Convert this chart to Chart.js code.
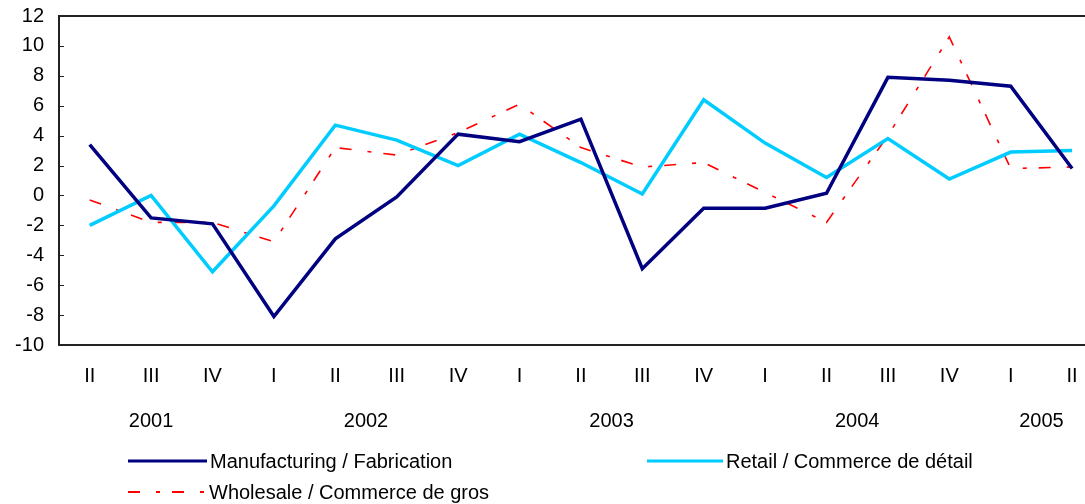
<!DOCTYPE html>
<html>
<head>
<meta charset="utf-8">
<script src="https://cdn.jsdelivr.net/npm/chart.js@4"></script>
<style>
  body { margin: 0; background: #fff; }
  #wrap { position: relative; width: 1085px; height: 504px; overflow: hidden; font-family: "Liberation Sans", Arial, sans-serif; }
  #myChart { position: absolute; left: 0; top: 0; }
  .legendItem { position: absolute; height: 24px; line-height: 24px; font-size: 20px; color: #000; white-space: nowrap; }
  .legendItem svg { position: absolute; top: 0; }
  .legendItem span { position: absolute; top: 0; }
</style>
</head>
<body>
<div id="wrap">
  <canvas id="myChart" width="1085" height="504"></canvas>
  <div id="legend"></div>
</div>
<script>
let quarters = ["II", "III", "IV", "I", "II", "III", "IV", "I", "II", "III", "IV", "I", "II", "III", "IV", "I", "II"];
let quarterYears = ["2001", "2001", "2001", "2002", "2002", "2002", "2002", "2003", "2003", "2003", "2003", "2004", "2004", "2004", "2004", "2005", "2005"];
let manufacturing = [3.4, -1.5, -1.9, -8.1, -2.9, -0.1, 4.1, 3.6, 5.1, -4.9, -0.85, -0.85, 0.15, 7.9, 7.7, 7.3, 1.8];
let retail = [-2.0, 0.0, -5.1, -0.7, 4.7, 3.7, 2.0, 4.1, 2.2, 0.1, 6.4, 3.5, 1.2, 3.8, 1.1, 2.9, 3.0];
let wholesale = [-0.3, -1.8, -1.8, -3.1, 3.2, 2.7, 4.2, 6.1, 3.2, 1.9, 2.2, 0.2, -1.8, 4.0, 10.6, 1.8, 1.9];
let yTicks = [12, 10, 8, 6, 4, 2, 0, -2, -4, -6, -8, -10];

let seriesNames = ["Manufacturing / Fabrication", "Retail / Commerce de détail", "Wholesale / Commerce de gros"];
let seriesColors = ["#000080", "#00ccff", "#ff0000"];
let fontFamily = "'Liberation Sans', Arial, sans-serif";

function toPoints(values) {
  return values.map((v, i) => ({ x: i, y: v }));
}

function yearTicks() {
  let years = [];
  for (let i = 0; i < quarterYears.length; i++) {
    let year = quarterYears[i];
    let found = years.find((y) => y.year === year);
    if (found) {
      found.sum += i;
      found.count++;
    } else {
      years.push({ year: year, sum: i, count: 1 });
    }
  }
  return years.map((y) => ({ value: y.sum / y.count, label: y.year }));
}

function noPadding(scale) {
  scale.paddingLeft = 0;
  scale.paddingRight = 0;
  scale.paddingTop = 0;
  scale.paddingBottom = 0;
}

// frame round the plot and the small inner ticks on the y axis
const framePlugin = {
  id: "frame",
  afterDatasetsDraw(chart) {
    let ctx = chart.ctx;
    let area = chart.chartArea;
    let y = chart.scales.y;
    ctx.save();
    ctx.strokeStyle = "#222";
    ctx.lineWidth = 2;
    ctx.strokeRect(area.left, area.top, area.right - area.left + 5, area.bottom - area.top);
    ctx.beginPath();
    for (let t of yTicks) {
      let py = Math.round(y.getPixelForValue(t)) + 0.5;
      ctx.moveTo(area.left, py);
      ctx.lineTo(area.left + 5, py);
    }
    ctx.lineWidth = 1;
    ctx.stroke();
    ctx.restore();
  },
};

function buildLegend() {
  let legend = document.getElementById("legend");
  let items = [
    { left: 128, top: 449, lineWidth: 79, dash: "", width: 3 },
    { left: 647, top: 449, lineWidth: 76, dash: "", width: 3 },
    { left: 128, top: 480, lineWidth: 78, dash: "12 16 4 12", width: 2 },
  ];
  for (let i = 0; i < items.length; i++) {
    let it = items[i];
    let div = document.createElement("div");
    div.className = "legendItem";
    div.style.left = it.left + "px";
    div.style.top = it.top + "px";
    div.innerHTML =
      `<svg width="${it.lineWidth}" height="24"><line x1="0" y1="12" x2="${it.lineWidth}" y2="12" stroke="${seriesColors[i]}" stroke-width="${it.width}" stroke-dasharray="${it.dash}"/></svg>` +
      `<span style="left:${it.lineWidth + 3}px">${seriesNames[i]}</span>`;
    legend.appendChild(div);
  }
}

function canvas() {
  const ctx = document.getElementById("myChart");
  let years = yearTicks();
  let xMin = -0.5;
  let xMax = 16.21;

  new Chart(ctx, {
    type: "line",
    data: {
      datasets: [
        {
          label: seriesNames[0],
          data: toPoints(manufacturing),
          borderColor: seriesColors[0],
          borderWidth: 3.5,
          pointRadius: 0,
          tension: 0,
        },
        {
          label: seriesNames[1],
          data: toPoints(retail),
          borderColor: seriesColors[1],
          borderWidth: 3.5,
          pointRadius: 0,
          tension: 0,
        },
        {
          label: seriesNames[2],
          data: toPoints(wholesale),
          borderColor: seriesColors[2],
          borderWidth: 1.6,
          borderDash: [12, 16, 4, 12],
          pointRadius: 0,
          tension: 0,
        },
      ],
    },
    options: {
      responsive: false,
      animation: false,
      layout: {
        padding: { top: 16, right: 0, bottom: 0, left: 0 },
      },
      plugins: {
        legend: { display: false },
        tooltip: { enabled: false },
      },
      scales: {
        y: {
          min: -10,
          max: 12,
          afterBuildTicks(scale) {
            scale.ticks = yTicks.map((v) => ({ value: v }));
          },
          afterFit(scale) {
            scale.width = 59;
            noPadding(scale);
          },
          grid: { display: false, drawTicks: false },
          border: { display: false },
          ticks: {
            padding: 15,
            color: "#000",
            font: { family: fontFamily, size: 20 },
          },
        },
        x: {
          type: "linear",
          position: "bottom",
          min: xMin,
          max: xMax,
          afterBuildTicks(scale) {
            scale.ticks = quarters.map((q, i) => ({ value: i }));
          },
          afterFit(scale) {
            scale.height = 55;
            noPadding(scale);
          },
          grid: { display: false, drawTicks: false },
          border: { display: false },
          ticks: {
            autoSkip: false,
            maxRotation: 0,
            padding: 19,
            color: "#000",
            font: { family: fontFamily, size: 20 },
            callback: function (value) {
              return quarters[value];
            },
          },
        },
        years: {
          type: "linear",
          position: "bottom",
          min: xMin,
          max: xMax,
          afterBuildTicks(scale) {
            scale.ticks = years.map((y) => ({ value: y.value }));
          },
          afterFit(scale) {
            scale.height = 104;
            noPadding(scale);
          },
          grid: { display: false, drawTicks: false },
          border: { display: false },
          ticks: {
            autoSkip: false,
            maxRotation: 0,
            padding: 9,
            color: "#000",
            font: { family: fontFamily, size: 20 },
            callback: function (value) {
              let found = years.find((y) => y.value === value);
              return found ? found.label : "";
            },
          },
        },
      },
    },
    plugins: [framePlugin],
  });
}

buildLegend();
canvas();
</script>
</body>
</html>
